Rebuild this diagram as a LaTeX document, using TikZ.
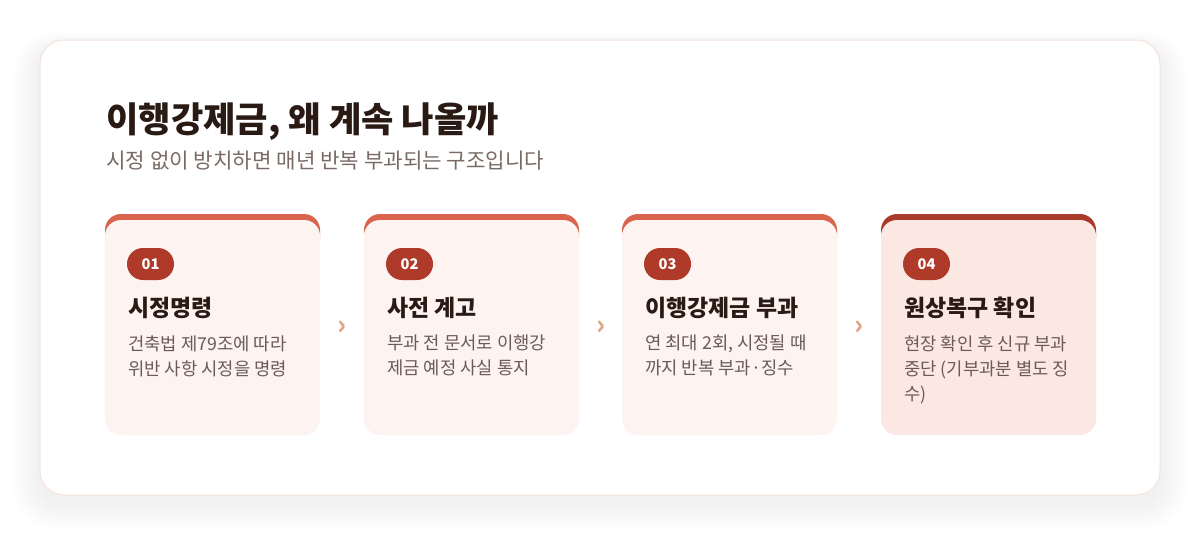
\documentclass[tikz,border=0pt]{standalone}
\usepackage{fontspec}
\setmainfont{Noto Sans CJK KR}
\usetikzlibrary{calc}

\definecolor{inkdark}{HTML}{2A1A14}
\definecolor{inksub}{HTML}{7A6A66}
\definecolor{inkbody}{HTML}{6B5A55}
\definecolor{rimline}{HTML}{F5E3DA}
\definecolor{shadetint}{HTML}{D8A88C}
\definecolor{barA}{HTML}{D9654E}
\definecolor{barB}{HTML}{A83B2B}
\definecolor{badgered}{HTML}{B03A2A}
\definecolor{paleA}{HTML}{FDF3F0}
\definecolor{paleB}{HTML}{FBE8E2}
\definecolor{chevcol}{HTML}{E0A487}

\begin{document}
\begin{tikzpicture}[x=0.75pt,y=-0.75pt,
  panel/.style={draw=rimline,line width=0.75pt,fill=white,rounded corners=18pt,
    minimum width=840pt,minimum height=341.25pt,inner sep=0pt},
  stepcard/.style={rounded corners=12pt,minimum width=161.25pt,minimum height=161.25pt,inner sep=0pt},
  badge/.style={fill=badgered,text=white,rounded corners=12pt,minimum width=35.25pt,
    minimum height=24pt,inner sep=0pt,font=\bfseries\fontsize{11}{13}\selectfont},
  headline/.style={anchor=base west,inner sep=0pt,text=inkdark,font=\bfseries\fontsize{17.2}{20}\selectfont},
  bodytext/.style={anchor=north west,inner sep=0pt,align=left,text=inkbody,font=\fontsize{13.3}{18.75}\selectfont},
  chev/.style={text=chevcol,inner sep=0pt,font=\bfseries\fontsize{20}{20}\selectfont}]
\useasboundingbox (0,0) rectangle (1200,536);
\fill[white] (0,0) rectangle (1200,536);

% soft shadow under the panel
\foreach \k in {1,...,14}
  \fill[shadetint,opacity=0.005,rounded corners=18pt+\k*1.2pt]
    (40-\k*2,40-\k*1.2+8) rectangle (1160+\k*2,495+\k*2+8);

\node[panel] (panel) at (600,267.5) {};

\node[anchor=base west,inner sep=0pt,text=inkdark,font=\bfseries\fontsize{26.4}{30}\selectfont]
  (title) at (106,132) {이행강제금, 왜 계속 나올까};
\node[anchor=base west,inner sep=0pt,text=inksub,font=\fontsize{15.9}{19}\selectfont]
  (subtitle) at (106,168) {시정 없이 방치하면 매년 반복 부과되는 구조입니다};

\foreach \i/\x/\bar/\bg/\head/\body in {
  1/105/barA/paleA/시정명령/{건축법 제79조에 따라\\위반 사항 시정을 명령},
  2/364/barA/paleA/사전 계고/{부과 전 문서로 이행강\\제금 예정 사실 통지},
  3/622/barA/paleA/이행강제금 부과/{연 최대 2회, 시정될 때\\까지 반복 부과·징수},
  4/881/barB/paleB/원상복구 확인/{현장 확인 후 신규 부과\\중단 (기부과분 별도 징\\수)}}
{
  \fill[\bar,rounded corners=12pt] (\x,214) rectangle ++(215,40);
  \node[stepcard,fill=\bg] (c\i) at (\x+107.5,327.5) {};
  \node[badge] (b\i) at (\x+45.5,264) {0\i};
  \node[headline] (h\i) at (\x+23,316) {\head};
  \node[bodytext] (t\i) at (\x+23,335) {\body};
}

\foreach \s/\t in {c1/c2, c2/c3, c3/c4}
  \node[chev] (\s\t) at ($(\s.east)!0.5!(\t.west)$) {›};
\end{tikzpicture}
\end{document}
